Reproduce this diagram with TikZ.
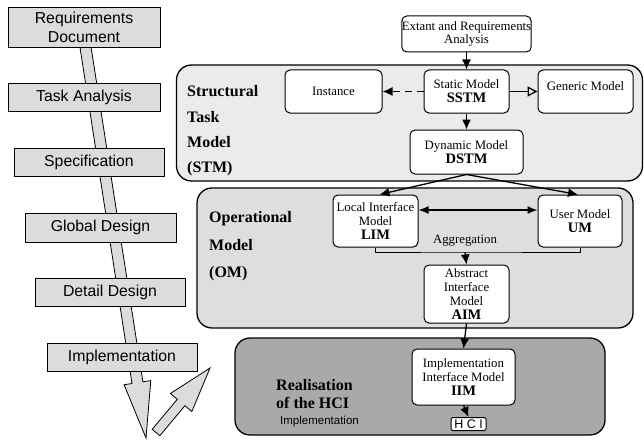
\documentclass[tikz,border=0pt]{standalone}
\usepackage{fontspec}
\setmainfont{Liberation Serif}
\newfontfamily\sansfam{Liberation Sans}
\usetikzlibrary{arrows.meta,calc}
\definecolor{phasegray}{HTML}{DCDCDC}
\definecolor{stmgray}{HTML}{EBEBEB}
\definecolor{omgray}{HTML}{DEDEDE}
\definecolor{realgray}{HTML}{A9A9A9}
\newcommand{\acrfont}{\bfseries\fontsize{14.5}{15}\selectfont}

\begin{document}
\begin{tikzpicture}[x=1pt,y=-1pt,
  phase/.style={draw, fill=phasegray, line width=0.8pt, inner sep=0pt,
    minimum height=28pt, align=center,
    font=\sansfam\fontsize{15.8}{19}\selectfont},
  container/.style={draw, line width=1.3pt, rounded corners=15pt, inner sep=0pt},
  mbox/.style={draw, fill=white, line width=1pt, rounded corners=5pt,
    inner sep=0pt, align=center, font=\fontsize{12.8}{13.8}\selectfont},
  txt/.style={inner sep=0pt, font=\fontsize{12.8}{13.8}\selectfont},
  sect/.style={inner sep=0pt, anchor=base west, font=\bfseries\fontsize{16}{18}\selectfont},
  conn/.style={line width=1.3pt, -{Latex[length=10pt,width=9pt]}},
  blockarrow/.style={draw, fill=phasegray, line width=0.8pt, line join=miter}
]
\useasboundingbox (0,0) rectangle (644,441);

% ---- life-cycle block arrows (behind the phase boxes)
\coordinate (lfrom) at (85.5,47);
\coordinate (lto) at (146,438);
\coordinate (lbase) at ($(lto)!56pt!(lfrom)$);
\draw[blockarrow]
  ($(lfrom)!5.5pt!90:(lto)$) -- ($(lbase)!5.5pt!90:(lto)$) --
  ($(lbase)!13.5pt!90:(lto)$) -- (lto) -- ($(lbase)!13.5pt!-90:(lto)$) --
  ($(lbase)!5.5pt!-90:(lto)$) -- ($(lfrom)!5.5pt!-90:(lto)$) -- cycle;

\coordinate (sfrom) at (156,432.5);
\coordinate (sto) at (210,368);
\coordinate (sbase) at ($(sto)!45pt!(sfrom)$);
\draw[blockarrow]
  ($(sfrom)!5pt!90:(sto)$) -- ($(sbase)!5pt!90:(sto)$) --
  ($(sbase)!14pt!90:(sto)$) -- (sto) -- ($(sbase)!14pt!-90:(sto)$) --
  ($(sbase)!5pt!-90:(sto)$) -- ($(sfrom)!5pt!-90:(sto)$) -- cycle;

% ---- phases
\node[phase, minimum width=152pt, minimum height=40pt] (reqdoc) at (84,27) {Requirements\\Document};
\node[phase, minimum width=152pt] (task) at (84,97) {Task Analysis};
\node[phase, minimum width=150pt] (spec) at (89,162) {Specification};
\node[phase, minimum width=151pt, minimum height=29pt] (global) at (100.5,227.5) {Global Design};
\node[phase, minimum width=150pt] (detail) at (110,292) {Detail Design};
\node[phase, minimum width=150pt] (impl) at (122,357) {Implementation};

% ---- model containers
\node[container, fill=stmgray, minimum width=466pt, minimum height=116pt] (stm) at (409.5,123) {};
\node[container, fill=omgray, minimum width=436pt, minimum height=140pt] (om) at (415,258) {};
\node[container, fill=realgray, minimum width=370pt, minimum height=97pt] (real) at (420,386.5) {};

\node[sect] (stm1) at (187,96) {Structural};
\node[sect] (stm2) at (187,122) {Task};
\node[sect] (stm3) at (187,147.5) {Model};
\node[sect] (stm4) at (187,172.5) {(STM)};

\node[sect] (om1) at (209,222) {Operational};
\node[sect] (om2) at (209,250) {Model};
\node[sect] (om3) at (209,277) {(OM)};

\node[sect] (re1) at (276,390) {Realisation};
\node[sect] (re2) at (276,408) {of the HCI};
\node[inner sep=0pt, anchor=base west, font=\sansfam\fontsize{11.5}{12}\selectfont] (re3) at (280,424) {Implementation};

% ---- model boxes
\node[mbox, minimum width=129pt, minimum height=36pt] (extant) at (466.5,34) {Extant and Requirements\\Analysis};
\node[mbox, minimum width=97pt, minimum height=43pt] (instance) at (333.5,91.5) {Instance};
\node[mbox, minimum width=85pt, minimum height=43pt] (static) at (466.5,91.5) {Static Model\\{\acrfont SSTM}};
\node[mbox, minimum width=95pt, minimum height=43pt] (generic) at (585.5,91.5) {};
\node[txt] (genericname) at (585.5,86) {Generic Model};
\node[mbox, minimum width=113pt, minimum height=44pt] (dynamic) at (466.5,152) {Dynamic Model\\{\acrfont DSTM}};

\node[mbox, minimum width=85pt, minimum height=52pt] (lim) at (375.5,221) {Local Interface\\Model\\{\acrfont LIM}};
\node[mbox, minimum width=84pt, minimum height=52pt] (um) at (580,221) {User Model\\{\acrfont UM}};
\node[txt] (aggname) at (465,241) {Aggregation};
\node[mbox, minimum width=85pt, minimum height=58pt] (aim) at (466.5,294) {Abstract\\Interface\\Model\\{\acrfont AIM}};

\node[mbox, minimum width=103pt, minimum height=56pt] (iim) at (463.5,377) {Implementation\\Interface Model\\{\acrfont IIM}};
\node[mbox, rounded corners=1.5pt, line width=1pt, minimum width=35pt, minimum height=13pt,
  font=\sansfam\fontsize{12.5}{12.5}\selectfont] (hci) at (468.5,424) {H C I};

% ---- connectors
\draw[conn] (extant) -- (static);
\draw[conn, dash pattern=on 7pt off 5pt] (static) -- (instance);
\draw[line width=1.3pt, -{Triangle[open,length=10pt,width=10pt]}] (static) -- (generic);
\draw[conn] (static) -- (dynamic);
\draw[conn] (dynamic.south) -- ($(lim.north)+(4,0)$);
\draw[conn] (dynamic.south) -- ($(um.north)+(-2,0)$);
\draw[line width=1.3pt, {Latex[length=10pt,width=8pt]}-{Latex[length=10pt,width=8pt]}]
  ([yshift=11pt]lim.east) -- ([yshift=11pt]um.west);
\coordinate (agg) at (465,252);
\draw[line width=1pt] (lim.south) |- (agg) -| (um.south);
\draw[conn] (agg) -- (aim.north);
\draw[conn] (aim.south) -- (iim.north);
\draw[conn] (iim.south) -- (hci.north);
\end{tikzpicture}
\end{document}
